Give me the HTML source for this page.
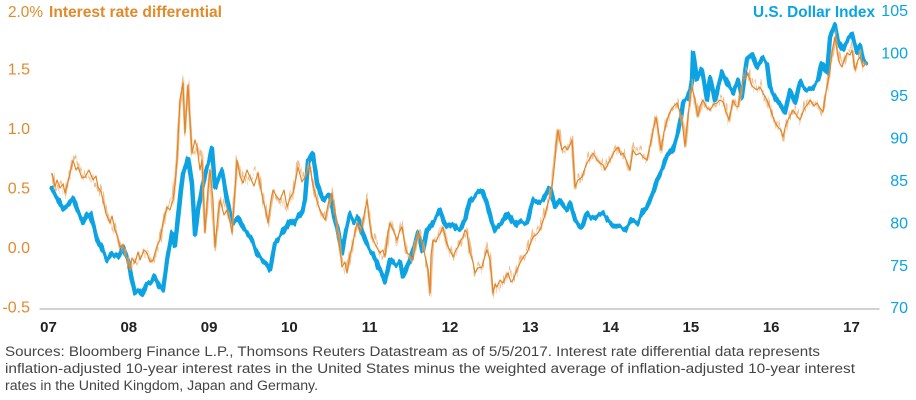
<!DOCTYPE html>
<html>
<head>
<meta charset="utf-8">
<style>
  html,body{margin:0;padding:0;background:#fff;}
  svg{display:block;}
  text{font-family:"Liberation Sans",Arial,sans-serif;}
</style>
</head>
<body>
<svg id="chart" width="916" height="400" viewBox="0 0 916 400" xmlns="http://www.w3.org/2000/svg">
  <defs>
    <filter id="rough" x="-2%" y="-15%" width="104%" height="130%">
      <feTurbulence type="turbulence" baseFrequency="0.35 0.01" numOctaves="2" seed="7" result="n"/>
      <feColorMatrix in="n" type="matrix" values="0 0 0 0 0.5  0 1.6 0 0 0.15  0 0 0 0 0  0 0 0 0 1" result="m"/>
      <feDisplacementMap in="SourceGraphic" in2="m" scale="14" xChannelSelector="R" yChannelSelector="G"/>
    </filter>
    <filter id="roughb" x="-2%" y="-15%" width="104%" height="130%">
      <feTurbulence type="fractalNoise" baseFrequency="0.25 0.01" numOctaves="2" seed="3" result="n"/>
      <feColorMatrix in="n" type="matrix" values="0 0 0 0 0.5  0 1 0 0 0  0 0 0 0 0  0 0 0 0 1" result="m"/>
      <feDisplacementMap in="SourceGraphic" in2="m" scale="8" xChannelSelector="R" yChannelSelector="G"/>
    </filter>
  </defs>
  <rect width="916" height="400" fill="#fff"/>

  <!-- Titles -->
  <text x="8" y="17" font-size="16" fill="#e08a2b" textLength="35" lengthAdjust="spacingAndGlyphs">2.0%</text>
  <text x="49" y="17" font-size="16" font-weight="bold" fill="#e08a2b" textLength="173" lengthAdjust="spacingAndGlyphs">Interest rate differential</text>
  <text x="753" y="17" font-size="16" font-weight="bold" fill="#0aa3e3" textLength="122" lengthAdjust="spacingAndGlyphs">U.S. Dollar Index</text>

  <!-- Left axis labels -->
  <g font-size="16" fill="#e08a2b" text-anchor="end">
    <text x="30" y="74.7">1.5</text>
    <text x="30" y="134.2">1.0</text>
    <text x="30" y="193.7">0.5</text>
    <text x="30" y="253.2">0.0</text>
    <text x="30" y="312.7">-0.5</text>
  </g>

  <!-- Right axis labels -->
  <g font-size="16" fill="#0aa3e3" text-anchor="end">
    <text x="908" y="16.2">105</text>
    <text x="908" y="58.6">100</text>
    <text x="908" y="101.1">95</text>
    <text x="908" y="143.5">90</text>
    <text x="908" y="185.9">85</text>
    <text x="908" y="228.3">80</text>
    <text x="908" y="270.8">75</text>
    <text x="908" y="313.2">70</text>
  </g>

  <!-- Axis line -->
  <line x1="39.5" y1="309" x2="879.5" y2="309" stroke="#c2c2c2" stroke-width="1.5"/>

  <!-- Year labels -->
  <g font-size="15" font-weight="bold" fill="#222" text-anchor="middle">
    <text x="48.5" y="332">07</text>
    <text x="128.8" y="332">08</text>
    <text x="209.1" y="332">09</text>
    <text x="289.4" y="332">10</text>
    <text x="369.7" y="332">11</text>
    <text x="450" y="332">12</text>
    <text x="530.3" y="332">13</text>
    <text x="610.6" y="332">14</text>
    <text x="690.9" y="332">15</text>
    <text x="771.2" y="332">16</text>
    <text x="851.5" y="332">17</text>
  </g>

  <!-- Blue series -->
  <g filter="url(#roughb)">
  <polyline fill="none" stroke="#0aa3e3" stroke-width="4.4" stroke-linejoin="round" stroke-linecap="round"
    points="51.7,188 56,196 60,203 63,210 68,205 73,198 78,212 83,222 87,214 90,213 94,228 97,240 102,249 107,260 112,253 118,257 123,247 126,256 128,260 132,280 135,293 139,291 142,295 147,283 151,284 155,277 159,286 163,290 167,260 172,233 175,247 178,217 181,190 183,173 188,157 192,183 195,233 198,210 200,200 205,173 209,160 212,147 215,187 219,176 222,170 227,200 232,223 238,217 243,228 247,233 252,240 257,253 263,260 267,264 270,270 275,243 279,239 283,233 287,226 290,220 294,224 298,217 302,212 305,200 308,163 313,153 317,183 320,192 323,200 327,195 330,197 334,215 337,227 342,252 346,230 350,215 354,222 358,217 362,232 365,240 369,249 373,253 378,266 382,274 385,282 390,260 395,266 400,263 403,278 406,270 410,260 414,246 418,233 423,252 427,230 432,223 436,217 440,210 444,222 447,227 453,223 457,229 460,230 465,220 470,200 474,197 477,193 482,190 485,198 488,207 492,222 495,230 502,223 505,217 508,213 512,221 515,225 518,220 522,223 527,223 530,212 533,200 538,203 543,200 546,194 550,187 555,207 560,200 564,207 567,210 570,203 575,220 579,226 582,228 587,213 591,218 595,218 599,215 603,213 608,220 613,225 619,228 625,230 629,224 632,220 638,223 643,212 647,207 650,200 654,190 657,180 662,170 667,157 670,153 673,150 678,133 681,118 683,103 688,97 690,90 692,80 693,52 697,80 702,70 707,100 710,77 715,100 718,88 722,72 727,83 733,93 738,80 742,97 745,72 747,57 752,53 757,67 763,58 767,63 770,87 774,95 777,100 781,106 785,113 790,90 795,103 800,82 804,88 807,90 813,87 818,80 822,62 827,73 830,37 835,25 838,40 843,50 848,40 852,35 857,53 860,45 863,60 866,63"/>
  </g>

  <!-- Orange series: soft noisy band + core line -->
  <g filter="url(#rough)">
    <polyline fill="none" stroke="#eba866" stroke-opacity="0.75" stroke-width="2.5" stroke-linejoin="round"
      points="52,173 55,187 60,188 65,193 70,173 73,160 78,167 85,177 93,180 98,187 103,200 110,223 115,230 120,247 125,253 130,270 135,263 140,260 147,253 153,260 160,240 167,207 173,200 177,160 180,100 183,83 185,133 188,85 192,153 197,147 202,160 205,233 210,170 215,247 220,200 227,210 232,233 237,160 243,183 250,177 258,173 263,200 268,223 273,190 280,200 287,207 293,193 298,167 305,177 310,167 315,193 320,210 325,220 332,193 337,227 342,267 347,273 352,247 357,223 362,227 367,200 372,237 380,253 385,257 390,223 397,240 402,227 407,253 413,260 418,233 423,247 428,270 430,293 433,240 438,237 443,227 448,247 453,257 458,247 463,237 467,233 470,253 475,273 482,267 487,250 490,260 493,293 497,287 503,283 508,273 513,280 520,263 527,253 533,237 540,230 547,207 552,187 555,160 558,130 562,150 567,150 572,140 575,187 582,177 587,163 593,153 600,163 605,170 610,160 618,147 623,153 630,170 633,150 640,153 647,160 652,137 656,117 661,150 667,120 673,107 677,103 682,120 685,147 688,117 692,87 695,100 698,117 703,100 710,110 717,103 723,102 729,120 733,100 738,107 743,80 748,73 753,87 760,87 767,100 773,117 778,127 783,137 788,120 793,110 800,120 805,107 810,100 817,103 823,112 827,87 830,70 835,37 838,57 842,67 847,53 852,50 855,70 860,57 863,67 866,62"/>
  </g>
  <polyline fill="none" stroke="#e0862a" stroke-width="1.2" stroke-linejoin="round"
    points="52,173 55,187 57,180 60,188 63,184 65,193 68,182 70,173 73,160 76,170 78,167 82,178 85,177 89,170 93,180 96,176 98,187 101,192 103,200 106,214 110,223 112,216 115,230 118,238 120,247 123,244 125,253 128,262 130,270 132,258 135,263 138,252 140,260 144,250 147,253 150,262 153,260 157,246 160,240 163,222 167,207 170,210 173,200 175,185 177,160 179,120 180,100 183,83 185,133 188,85 190,120 192,153 195,140 197,147 200,170 202,160 205,233 208,190 210,170 213,200 215,247 218,215 220,200 224,215 227,210 230,222 232,233 235,190 237,160 240,176 243,183 247,170 250,177 254,186 258,173 261,190 263,200 266,212 268,223 271,200 273,190 277,197 280,200 284,190 287,207 290,198 293,193 296,178 298,167 302,182 305,177 308,170 310,167 313,185 315,193 318,205 320,210 323,216 325,220 329,200 332,193 335,212 337,227 340,250 342,267 345,262 347,273 350,255 352,247 355,232 357,223 360,233 362,227 365,210 367,200 370,226 372,237 376,246 380,253 383,250 385,257 388,232 390,223 394,232 397,240 400,230 402,227 405,246 407,253 410,255 413,260 416,242 418,233 421,240 423,247 426,260 428,270 430,293 431,255 433,240 436,242 438,237 441,232 443,227 446,240 448,247 451,252 453,257 456,250 458,247 461,240 463,237 465,230 467,233 470,253 473,262 475,273 478,268 482,267 485,256 487,250 490,260 492,280 493,293 495,284 497,287 500,280 503,283 506,276 508,273 511,282 513,280 517,270 520,263 524,256 527,253 530,245 533,237 537,234 540,230 544,218 547,207 550,196 552,187 555,160 556,145 558,130 560,142 562,150 565,146 567,150 570,145 572,140 574,170 575,187 578,180 582,177 585,168 587,163 590,158 593,153 597,160 600,163 603,165 605,170 608,164 610,160 614,152 618,147 621,155 623,153 627,162 630,170 633,150 636,155 640,153 644,158 647,160 650,146 652,137 654,126 656,117 659,135 661,150 664,132 667,120 670,112 673,107 677,103 680,112 682,120 685,147 688,117 690,100 692,87 695,100 698,117 700,106 703,100 707,108 710,110 714,104 717,103 720,100 723,102 726,112 729,120 733,100 736,106 738,107 741,90 743,80 746,78 748,73 751,84 753,87 757,90 760,87 764,95 767,100 770,108 773,117 776,124 778,127 781,130 783,137 786,124 788,120 791,114 793,110 797,116 800,120 803,112 805,107 808,104 810,100 814,106 817,103 820,108 823,112 825,98 827,87 830,70 832,52 835,37 838,57 840,64 842,67 845,58 847,53 850,55 852,50 855,70 858,60 860,57 863,67 866,62"/>

  <!-- Footer -->
  <g font-size="13.5" fill="#444">
    <text x="5" y="356" textLength="815" lengthAdjust="spacingAndGlyphs">Sources: Bloomberg Finance L.P., Thomsons Reuters Datastream as of 5/5/2017. Interest rate differential data represents</text>
    <text x="5" y="373" textLength="850" lengthAdjust="spacingAndGlyphs">inflation-adjusted 10-year interest rates in the United States minus the weighted average of inflation-adjusted 10-year interest</text>
    <text x="5" y="390" textLength="313" lengthAdjust="spacingAndGlyphs">rates in the United Kingdom, Japan and Germany.</text>
  </g>
</svg>
</body>
</html>
